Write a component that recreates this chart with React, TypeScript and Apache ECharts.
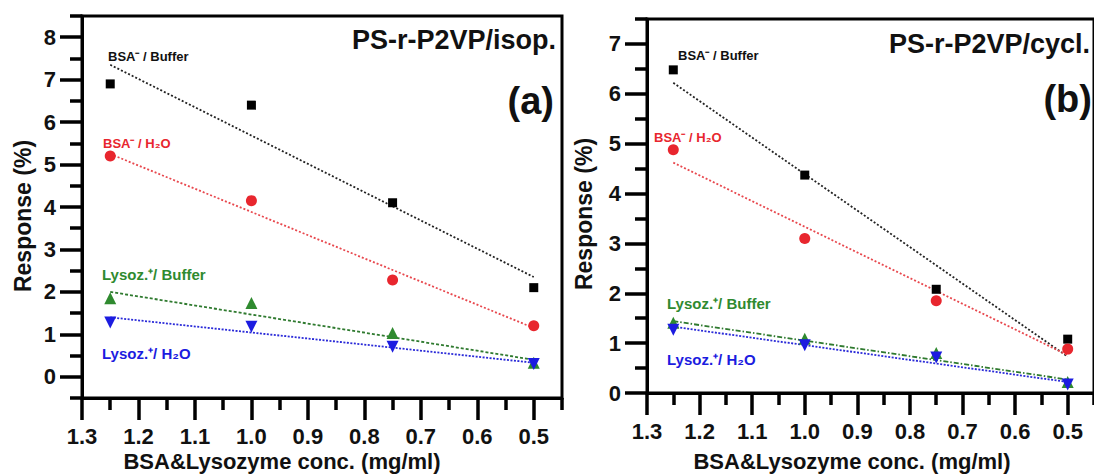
import React, { useEffect, useRef } from "react";
import * as echarts from "echarts";

// ---------- data ----------
const conc = [1.25, 1.0, 0.75, 0.5];
const fitX = [1.25, 0.5];

// Panel (a) PS-r-P2VP/isop.
const aBsaBuffer = [6.9, 6.4, 4.1, 2.1];
const aBsaWater = [5.2, 4.15, 2.28, 1.2];
const aLysBuffer = [1.85, 1.74, 1.03, 0.33];
const aLysWater = [1.28, 1.18, 0.71, 0.3];
const aFitBsaBuffer = [7.35, 2.35];
const aFitBsaWater = [5.25, 1.15];
const aFitLysBuffer = [2.0, 0.4];
const aFitLysWater = [1.4, 0.33];

// Panel (b) PS-r-P2VP/cycl.
const bBsaBuffer = [6.48, 4.37, 2.08, 1.08];
const bBsaWater = [4.88, 3.1, 1.85, 0.88];
const bLysBuffer = [1.41, 1.09, 0.8, 0.22];
const bLysWater = [1.27, 0.96, 0.71, 0.17];
const bFitBsaBuffer = [6.22, 0.73];
const bFitBsaWater = [4.62, 0.76];
const bFitLysBuffer = [1.44, 0.27];
const bFitLysWater = [1.33, 0.22];

// ticks
const xMajor = [0.5, 0.6, 0.7, 0.8, 0.9, 1.0, 1.1, 1.2, 1.3];
const xMinor = [0.45, 0.55, 0.65, 0.75, 0.85, 0.95, 1.05, 1.15, 1.25];
const aYMajor = [0, 1, 2, 3, 4, 5, 6, 7, 8];
const aYMinor = [-0.5, 0.5, 1.5, 2.5, 3.5, 4.5, 5.5, 6.5, 7.5, 8.5];
const bYMajor = [0, 1, 2, 3, 4, 5, 6, 7];
const bYMinor = [0.5, 1.5, 2.5, 3.5, 4.5, 5.5, 6.5, 7.5];

const seriesNames = ["BSA⁻ / Buffer", "BSA⁻ / H₂O", "Lysoz.⁺/ Buffer", "Lysoz.⁺/ H₂O"];

const FONT = '"Liberation Sans", Arial, sans-serif';
const BLACK = "#000000";
const RED = "#e8262e";
const GREEN = "#2f8a2f";
const BLUE = "#1c1ce0";

const X_MIN = 0.45;
const X_MAX = 1.3;
const MAJOR_LEN = 22;
const MINOR_LEN = 12;
const TICK_W = 3.5;

const r3 = (v: number) => Math.round(v * 1000) / 1000;

function pts(ys: number[]) {
  return conc.map((x, i) => [x, ys[i]]);
}
function fit(ys: number[]) {
  return fitX.map((x, i) => [x, ys[i]]);
}

// major x axis (bottom, reversed concentration scale)
function majorX(grid: number) {
  return {
    type: "value",
    gridIndex: grid,
    inverse: true,
    min: X_MIN,
    max: X_MAX,
    splitLine: { show: false },
    axisLine: { show: true, onZero: false, lineStyle: { color: BLACK, width: 3 } },
    axisTick: { show: true, inside: false, length: MAJOR_LEN, customValues: xMajor, lineStyle: { color: BLACK, width: TICK_W } },
    axisLabel: {
      show: true,
      customValues: xMajor,
      margin: 5,
      padding: [22, 0, 0, 0],
      formatter: (v: number) => v.toFixed(1),
      fontFamily: FONT,
      fontWeight: "bold",
      fontSize: 22,
      color: "#111",
    },
  };
}
// minor x ticks: helper axis measured from the left edge (X_MAX), moved onto the bottom edge
function minorX(grid: number, yIdx: number) {
  return {
    type: "value",
    gridIndex: grid,
    min: 0,
    max: r3(X_MAX - X_MIN),
    splitLine: { show: false },
    axisLine: { show: false, onZero: true, onZeroAxisIndex: yIdx },
    axisTick: { show: true, inside: true, length: MINOR_LEN, customValues: xMinor.map((v) => r3(X_MAX - v)), lineStyle: { color: BLACK, width: TICK_W } },
    axisLabel: { show: false },
  };
}
function majorY(grid: number, min: number, max: number, major: number[]) {
  return {
    type: "value",
    gridIndex: grid,
    min,
    max,
    splitLine: { show: false },
    axisLine: { show: true, onZero: false, lineStyle: { color: BLACK, width: 3 } },
    axisTick: { show: true, inside: false, length: MAJOR_LEN, customValues: major, lineStyle: { color: BLACK, width: TICK_W } },
    axisLabel: {
      show: true,
      customValues: major,
      margin: 4,
      padding: [0, 22, 0, 0],
      formatter: (v: number) => String(Math.round(v)),
      fontFamily: FONT,
      fontWeight: "bold",
      fontSize: 22,
      color: "#111",
    },
  };
}
// minor y ticks: helper axis measured from the bottom edge, moved onto the left edge
function minorY(grid: number, min: number, max: number, minor: number[], xIdx: number) {
  return {
    type: "value",
    gridIndex: grid,
    min: 0,
    max: r3(max - min),
    splitLine: { show: false },
    axisLine: { show: false, onZero: true, onZeroAxisIndex: xIdx },
    axisTick: { show: true, inside: true, length: MINOR_LEN, customValues: minor.map((v) => r3(v - min)), lineStyle: { color: BLACK, width: TICK_W } },
    axisLabel: { show: false },
  };
}

function panelSeries(idx: number, d: number[][], f: number[][], dashes: any[]) {
  const colors = [BLACK, RED, GREEN, BLUE];
  const lineColors = ["#222222", "#e8484e", "#2f7a2f", "#2a2ad8"];
  const symbols = ["rect", "circle", "triangle", "triangle"];
  const sizes = [9, 11, 12, 12];
  const rot = [0, 0, 0, 180];
  const out: any[] = [];
  f.forEach((ys, i) => {
    out.push({
      type: "line",
      name: seriesNames[i] + " fit",
      xAxisIndex: idx,
      yAxisIndex: idx,
      data: fit(ys),
      symbol: "none",
      silent: true,
      lineStyle: { color: lineColors[i], width: 1.8, type: dashes[i] },
      z: 2,
    });
  });
  d.forEach((ys, i) => {
    out.push({
      type: "scatter",
      name: seriesNames[i],
      xAxisIndex: idx,
      yAxisIndex: idx,
      data: pts(ys),
      symbol: symbols[i],
      symbolSize: sizes[i],
      symbolRotate: rot[i],
      itemStyle: { color: colors[i], opacity: 1 },
      z: 3,
    });
  });
  return out;
}

function txt(text: string, x: number, y: number, size: number, color: string, align = "left", rotation = 0) {
  return {
    type: "text",
    x,
    y,
    rotation,
    z: 10,
    style: {
      text,
      fill: color,
      font: `bold ${size}px ${FONT}`,
      align,
      verticalAlign: "middle",
      textAlign: align,
      textVerticalAlign: "middle",
    },
  };
}

export default function App() {
  const ref = useRef<HTMLDivElement>(null);
  useEffect(() => {
    if (!ref.current) return;
    const chart = echarts.init(ref.current, null, { renderer: "svg" });
    const option: any = {
      animation: false,
      backgroundColor: "#ffffff",
      grid: [
        { left: 82, top: 16, width: 480, height: 382, show: true, borderColor: BLACK, borderWidth: 3, backgroundColor: "transparent" },
        { left: 647, top: 19, width: 449, height: 374, show: true, borderColor: BLACK, borderWidth: 3, backgroundColor: "transparent" },
      ],
      // order: [a major, a minor, b major, b minor]
      xAxis: [majorX(0), minorX(0, 1), majorX(1), minorX(1, 3)],
      yAxis: [
        majorY(0, -0.5, 8.5, aYMajor),
        minorY(0, -0.5, 8.5, aYMinor, 1),
        majorY(1, 0, 7.5, bYMajor),
        minorY(1, 0, 7.5, bYMinor, 3),
      ],
      series: [
        ...panelSeries(0, [aBsaBuffer, aBsaWater, aLysBuffer, aLysWater], [aFitBsaBuffer, aFitBsaWater, aFitLysBuffer, aFitLysWater], [[2, 2], [2, 2], [3, 2], [2, 1.5]]),
        ...panelSeries(2, [bBsaBuffer, bBsaWater, bLysBuffer, bLysWater], [bFitBsaBuffer, bFitBsaWater, bFitLysBuffer, bFitLysWater], [[2, 2], [2, 2], [5, 2, 1.5, 2], [2, 1.5]]),
      ],
      graphic: [
        // axis titles
        txt("Response (%)", 23, 216, 23, "#111", "center", Math.PI / 2),
        txt("Response (%)", 584, 214, 23, "#111", "center", Math.PI / 2),
        txt("BSA&Lysozyme conc. (mg/ml)", 282, 461, 22, "#111", "center"),
        txt("BSA&Lysozyme conc. (mg/ml)", 852, 461, 22, "#111", "center"),
        // panel labels
        txt("PS-r-P2VP/isop.", 556, 40, 27, "#111", "right"),
        txt("(a)", 554, 101, 38, "#111", "right"),
        txt("PS-r-P2VP/cycl.", 1090, 44, 27, "#111", "right"),
        txt("(b)", 1092, 99, 38, "#111", "right"),
        // series labels (a)
        txt(seriesNames[0], 108, 56, 13, "#111", "left"),
        txt(seriesNames[1], 103, 143, 13, RED, "left"),
        txt(seriesNames[2], 102, 274, 15, GREEN, "left"),
        txt(seriesNames[3], 102, 353, 15, BLUE, "left"),
        // series labels (b)
        txt(seriesNames[0], 678, 55, 13, "#111", "left"),
        txt(seriesNames[1], 654, 137, 13, RED, "left"),
        txt(seriesNames[2], 667, 303, 15, GREEN, "left"),
        txt(seriesNames[3], 667, 359, 15, BLUE, "left"),
      ],
    };
    chart.setOption(option);
    return () => chart.dispose();
  }, []);
  return (
    <div
      ref={ref}
      style={{ position: "fixed", left: 0, top: 0, width: 1094, height: 475, background: "#fff" }}
    />
  );
}
